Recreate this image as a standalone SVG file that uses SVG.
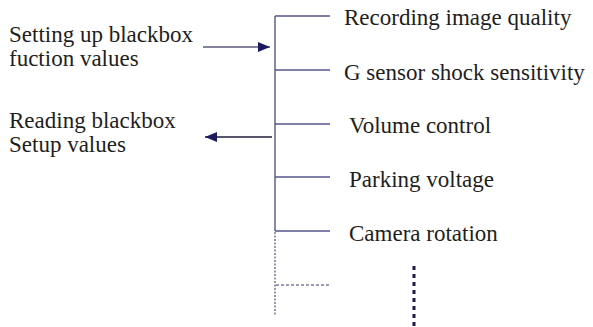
<svg xmlns="http://www.w3.org/2000/svg" width="593" height="327" viewBox="0 0 593 327">
  <style>
    .lbl { font-size: 23px; fill: #1e1e1e; }
    .trunk { stroke: #55558a; stroke-width: 1.4; fill: none; }
    .branch { stroke: #55558a; stroke-width: 1.4; fill: none; }
    .dotted { stroke: #6a6a90; stroke-width: 1.4; stroke-dasharray: 2 1.5; fill: none; }
    .dashed { stroke: #3a3a6a; stroke-width: 1.2; stroke-dasharray: 3 2; fill: none; }
    .more { stroke: #1c1c4a; stroke-width: 3; stroke-dasharray: 4 4; fill: none; }
  </style>
  <defs>
    <marker id="head" viewBox="0 0 12 10" refX="12" refY="5" markerWidth="12" markerHeight="10" markerUnits="userSpaceOnUse" orient="auto">
      <path d="M0,0 L12,5 L0,10 Z" fill="#1a1a5c"/>
    </marker>
  </defs>

  <rect width="593" height="327" fill="#ffffff"/>

  <!-- all labels share one serif face -->
  <g font-family="Liberation Serif, DejaVu Serif, serif">
    <!-- left-side descriptions -->
    <g id="setting-values">
      <text class="lbl" x="9" y="42">Setting up blackbox</text>
      <text class="lbl" x="9" y="66">fuction values</text>
    </g>
    <g id="reading-values">
      <text class="lbl" x="9" y="128">Reading blackbox</text>
      <text class="lbl" x="9" y="152">Setup values</text>
    </g>

    <!-- settings listed on the right -->
    <g id="item-quality"><text class="lbl" x="344" y="25">Recording image quality</text></g>
    <g id="item-gsensor"><text class="lbl" x="344" y="80">G sensor shock sensitivity</text></g>
    <g id="item-volume"><text class="lbl" x="349" y="133">Volume control</text></g>
    <g id="item-parking"><text class="lbl" x="349" y="187">Parking voltage</text></g>
    <g id="item-camera"><text class="lbl" x="349" y="241">Camera rotation</text></g>
  </g>

  <!-- trunk, branches and arrows -->
  <g id="connectors">
    <line class="trunk" x1="275" y1="16" x2="275" y2="231"/>
    <line class="dotted" x1="275" y1="232" x2="275" y2="316"/>
    <line class="branch" x1="275" y1="16" x2="330" y2="16"/>
    <line class="branch" x1="275" y1="70" x2="330" y2="70"/>
    <line class="branch" x1="275" y1="124" x2="330" y2="124"/>
    <line class="branch" x1="275" y1="177" x2="330" y2="177"/>
    <line class="branch" x1="275" y1="231" x2="330" y2="231"/>
    <line class="dashed" x1="276" y1="285" x2="330" y2="285"/>
    <line class="more" x1="414" y1="266" x2="414" y2="326"/>
    <line x1="203" y1="47" x2="270" y2="47" stroke="#5a5a7a" stroke-width="1.5" marker-end="url(#head)"/>
    <line x1="272" y1="137" x2="205" y2="137" stroke="#1e1e3a" stroke-width="1.3" marker-end="url(#head)"/>
  </g>
</svg>
